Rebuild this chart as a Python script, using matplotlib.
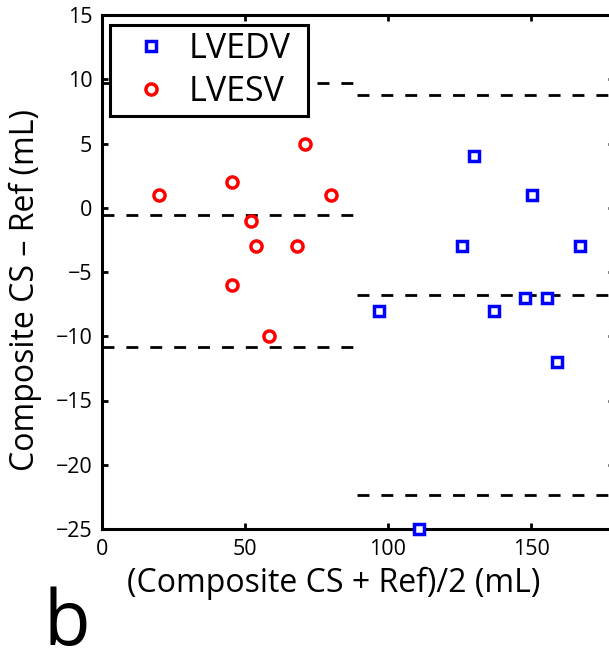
import matplotlib
matplotlib.use('Agg')
import matplotlib.pyplot as plt

plt.rcParams['font.family'] = ['Open Sans', 'DejaVu Sans']

# LVEDV (blue squares)
edv_mean = [130, 150.5, 126, 167, 97, 137, 148, 155.5, 159, 111]
edv_diff = [4, 1, -3, -3, -8, -8, -7, -7, -12, -25]
edv_bias = -6.8
edv_loa = (8.8, -22.35)
edv_span = (89.2, 200)

# LVESV (red circles)
esv_mean = [20, 45.5, 71, 80, 52, 54, 68, 45.5, 58.5]
esv_diff = [1, 2, 5, 1, -1, -3, -3, -6, -10]
esv_bias = -0.56
esv_loa = (9.68, -10.85)
esv_span = (0, 88)

xticks = [0, 50, 100, 150]
yticks = [-25, -20, -15, -10, -5, 0, 5, 10, 15]

W, H = 609, 652
fig = plt.figure(figsize=(W / 100, H / 100), dpi=100)
ax = fig.add_axes((102 / W, 1 - 529 / H, 512 / W, 514 / H))

dash = (0, (4.3, 4.3))
for lev in (esv_bias,) + esv_loa:
    ax.plot(esv_span, [lev, lev], color='k', lw=2, ls=dash, zorder=1)
for lev in (edv_bias,) + edv_loa:
    ax.plot(edv_span, [lev, lev], color='k', lw=2, ls=dash, zorder=1)

ax.plot(edv_mean, edv_diff, ls='none', marker='s', ms=7, mew=2.5,
        mec='#0000ff', mfc='white', label='LVEDV', clip_on=False, zorder=3)
ax.plot(esv_mean, esv_diff, ls='none', marker='o', ms=8, mew=2.5,
        mec='#ff0000', mfc='white', label='LVESV', clip_on=False, zorder=3)

ax.set_xlim(0, 179)
ax.set_ylim(-25, 15)
ax.set_xticks(xticks)
ax.set_yticks(yticks)
ax.tick_params(direction='in', length=4, width=2, top=True, right=True,
               labelsize=15.5, pad=7, colors='k')
for s in ax.spines.values():
    s.set_linewidth(2.2)

leg = ax.legend(loc='upper left',
                bbox_to_anchor=(110 / W, 1 - 117 / H, 198 / W, 92 / H),
                bbox_transform=fig.transFigure, mode='expand', borderaxespad=0,
                fontsize=24.5, frameon=True, fancybox=False, framealpha=1,
                handlelength=2.0, handletextpad=0.1, borderpad=0.2,
                labelspacing=0.28, numpoints=1)
leg.get_frame().set_edgecolor('k')
leg.get_frame().set_linewidth(2.2)

fig.text(334 / W, 1 - 583 / H, '(Composite CS + Ref)/2 (mL)',
         ha='center', va='center', fontsize=23)
fig.text(25 / W, 1 - 290 / H, 'Composite CS \u2013 Ref (mL)', rotation=90,
         ha='center', va='center', fontsize=23)
fig.text(43 / W, 1 - 645 / H, 'b', fontsize=55, va='baseline', ha='left')

fig.savefig('out.png', dpi=100)
